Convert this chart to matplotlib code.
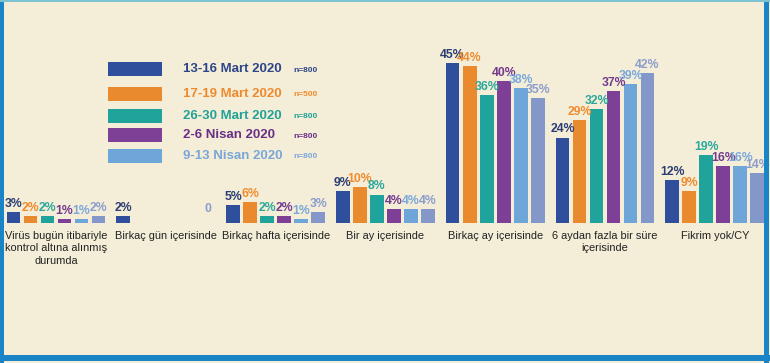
import numpy as np
import matplotlib
matplotlib.use("Agg")
import matplotlib.pyplot as plt
from matplotlib.patches import Rectangle
from matplotlib.transforms import blended_transform_factory

plt.rcParams['font.family'] = ['Liberation Sans', 'DejaVu Sans']

categories = [
    "Virüs bugün itibariyle\nkontrol altına alınmış\ndurumda",
    "Birkaç gün içerisinde",
    "Birkaç hafta içerisinde",
    "Bir ay içerisinde",
    "Birkaç ay içerisinde",
    "6 aydan fazla bir süre\niçerisinde",
    "Fikrim yok/CY",
]
wave1 = [3, 2, 5, 9, 45, 24, 12]
wave2 = [2, np.nan, 6, 10, 44, 29, 9]
wave3 = [2, np.nan, 2, 8, 36, 32, 19]
wave4 = [1, np.nan, 2, 4, 40, 37, 16]
wave5 = [1, np.nan, 1, 4, 38, 39, 16]
wave6 = [2, 0, 3, 4, 35, 42, 14]
series = [wave1, wave2, wave3, wave4, wave5, wave6]

legend_labels = ["13-16 Mart 2020", "17-19 Mart 2020", "26-30 Mart 2020",
                 "2-6 Nisan 2020", "9-13 Nisan 2020"]
legend_n = ["n=800", "n=500", "n=800", "n=800", "n=800"]

bar_colors = ["#2f4f9c", "#e98a2f", "#1fa39b", "#7e3f96", "#6ea6da", "#8497c9"]
text_colors = ["#2b3d73", "#f08b2e", "#2ba89c", "#733a8e", "#7ba8da", "#8c9dcc"]
legend_text_colors = ["#2d4589", "#ee8a2e", "#22a197", "#6a2f85", "#7ba6d8"]

bg = "#f4eed8"
W, H = 770, 363

fig = plt.figure(figsize=(7.7, 3.63), dpi=100)
fig.patch.set_facecolor(bg)

# axes: baseline at y=223 px, 50% at y=45 px
ax = fig.add_axes([0, (H - 223) / H, 1, (223 - 45) / H])
ax.set_facecolor("none")
ax.set_xlim(-0.51, 6.503)
ax.set_ylim(0, 50)
ax.axis("off")

x = np.arange(len(categories))
pitch = 0.155
width = 0.125
for k, vals in enumerate(series):
    xs = x + (k - 2.5) * pitch
    v = np.array(vals, dtype=float)
    ax.bar(xs, np.nan_to_num(v), width=width, color=bar_colors[k], zorder=2)
    for xi, vi in zip(xs, v):
        if np.isnan(vi):
            continue
        lab = "0" if vi == 0 else f"{int(vi)}%"
        ax.annotate(lab, (xi, vi), xytext=(0, 1.5 if vi else 6), textcoords="offset points",
                    ha="center", va="bottom", fontsize=8.8, fontweight="bold",
                    color=text_colors[k], zorder=3)

tr = blended_transform_factory(ax.transData, ax.transAxes)
for xi, cat in zip(x, categories):
    ax.text(xi, -0.045, cat, transform=tr, ha="center", va="top",
            fontsize=7.9, color="#222222", linespacing=1.3)

# legend drawn by hand
rows_y = [69.3, 93.7, 116, 135.3, 155.7]
for k, (lab, n, yc) in enumerate(zip(legend_labels, legend_n, rows_y)):
    fig.patches.append(Rectangle((108 / W, 1 - (yc + 7) / H), 54 / W, 14 / H,
                                 transform=fig.transFigure, facecolor=bar_colors[k],
                                 edgecolor="none"))
    fig.text(183 / W, 1 - yc / H, lab, ha="left", va="center", fontsize=9.5,
             fontweight="bold", color=legend_text_colors[k])
    fig.text(293 / W, 1 - (yc + 1) / H, n, ha="left", va="center", fontsize=6,
             fontweight="bold", color=legend_text_colors[k])

# frame
frame = "#1a85c6"
fig.patches.append(Rectangle((0, 0), 4 / W, 1, transform=fig.transFigure,
                             facecolor=frame, edgecolor="none"))
fig.patches.append(Rectangle((1 - 6 / W, 0), 5 / W, 1, transform=fig.transFigure,
                             facecolor=frame, edgecolor="none"))
fig.patches.append(Rectangle((0, 2 / H), 1, 6 / H, transform=fig.transFigure,
                             facecolor=frame, edgecolor="none"))
fig.patches.append(Rectangle((0, 1 - 2 / H), 1, 2 / H, transform=fig.transFigure,
                             facecolor="#7cc3cf", edgecolor="none"))

fig.savefig("out.png", dpi=100, facecolor=bg)
